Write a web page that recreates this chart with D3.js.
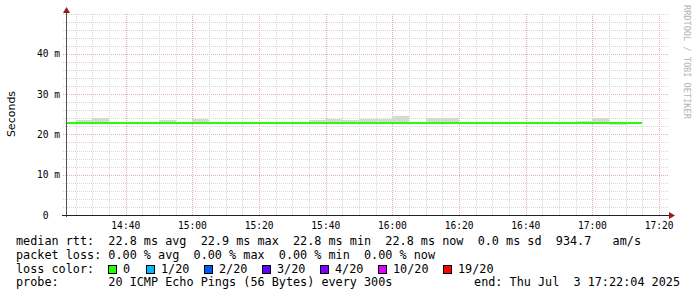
<!DOCTYPE html>
<html>
<head>
<meta charset="utf-8">
<script src="https://cdn.jsdelivr.net/npm/d3@7"></script>
<style>
  body { margin: 0; background: #fff; }
  text { font-family: "DejaVu Sans Mono", monospace; }
</style>
</head>
<body>
<div id="chart"></div>
<script>
var svgWidth = 697;
var svgHeight = 297;

// Data: 5 minute buckets (start time), median rtt and smoke band in ms
var bucketTimes = ["14:20","14:25","14:30","14:35","14:40","14:45","14:50","14:55",
  "15:00","15:05","15:10","15:15","15:20","15:25","15:30","15:35","15:40","15:45",
  "15:50","15:55","16:00","16:05","16:10","16:15","16:20","16:25","16:30","16:35",
  "16:40","16:45","16:50","16:55","17:00","17:05","17:10"];
var medianMs = [22.8,22.8,22.8,22.8,22.8,22.8,22.8,22.8,22.8,22.8,22.8,22.8,22.8,22.8,
  22.8,22.8,22.8,22.8,22.8,22.8,22.9,22.8,22.8,22.8,22.8,22.8,22.8,22.8,22.8,22.8,
  22.8,22.8,22.8,22.8,22.8];
var smokeMaxMs = [22.9,23.6,24.1,22.9,22.9,22.9,23.6,22.9,23.9,22.9,22.9,22.9,22.9,22.9,
  22.9,23.6,23.9,23.6,23.9,23.9,24.6,22.9,24.1,24.1,22.9,22.9,22.9,22.9,22.9,22.9,
  22.9,23.4,24.0,22.9,22.9];
var smokeMinMs = [22.6,22.6,22.6,22.6,22.6,22.6,22.6,22.6,22.6,22.6,22.6,22.6,22.6,22.6,
  22.6,22.6,22.6,22.6,22.6,22.6,22.6,22.6,22.6,22.6,22.6,22.6,22.6,22.6,22.6,22.6,
  22.6,22.6,22.6,22.4,22.6];

var startTime = "14:22:04";
var endTime = "17:22:04";
var xTickTimes = ["14:40","15:00","15:20","15:40","16:00","16:20","16:40","17:00","17:20"];
var yTickValues = [0, 10, 20, 30, 40];
var yTickLabels = [" 0  ", "10 m", "20 m", "30 m", "40 m"];

var legendRows = [
  "median rtt:  22.8 ms avg  22.9 ms max  22.8 ms min  22.8 ms now  0.0 ms sd  934.7   am/s",
  "packet loss: 0.00 % avg  0.00 % max  0.00 % min  0.00 % now",
  "loss color:",
  "probe:       20 ICMP Echo Pings (56 Bytes) every 300s"
];
var lossLabels = ["0", "1/20", "2/20", "3/20", "4/20", "10/20", "19/20"];
var lossColors = ["#26ff00", "#00b8ff", "#0059ff", "#5e00ff", "#7e00ff", "#dd00ff", "#ff0000"];
var endLabel = "end: Thu Jul  3 17:22:04 2025";

var parseTime = d3.timeParse("%H:%M");
var parseTimeSec = d3.timeParse("%H:%M:%S");

var margin = { top: 13.5, left: 66, bottom: 82, right: 31 };
var plotRight = svgWidth - margin.right;
var plotBottom = svgHeight - margin.bottom;

var svg = d3.select("#chart")
  .append("svg")
  .attr("width", svgWidth)
  .attr("height", svgHeight);

svg.append("rect").attr("width", svgWidth).attr("height", svgHeight).attr("fill", "#fff");

// Scales
// ==============================
var xScale = d3.scaleTime()
  .domain([parseTimeSec(startTime), parseTimeSec(endTime)])
  .range([margin.left, plotRight]);

var yScale = d3.scaleLinear()
  .domain([0, 50])
  .range([plotBottom, margin.top]);

var step = 5 * 60 * 1000;
var buckets = bucketTimes.map(function(t, i) {
  return { t: parseTime(t), median: medianMs[i], max: smokeMaxMs[i], min: smokeMinMs[i] };
});

// Grid
// ==============================
var gridG = svg.append("g").attr("shape-rendering", "crispEdges");

var minorY = d3.range(2, 51, 2);
gridG.selectAll(".hgrid")
  .data(minorY)
  .enter()
  .append("line")
  .attr("x1", margin.left - 3)
  .attr("x2", plotRight + 2)
  .attr("y1", d => Math.round(yScale(d)) + 0.5)
  .attr("y2", d => Math.round(yScale(d)) + 0.5)
  .attr("stroke", d => (d % 10 === 0 && d < 50) ? "#e8aeae" : "#d6d6d6")
  .attr("stroke-dasharray", "1,1");

var minorX = xScale.ticks(d3.timeMinute.every(5));
gridG.selectAll(".vgrid")
  .data(minorX)
  .enter()
  .append("line")
  .attr("x1", d => Math.round(xScale(d)) + 0.5)
  .attr("x2", d => Math.round(xScale(d)) + 0.5)
  .attr("y1", margin.top)
  .attr("y2", plotBottom)
  .attr("stroke", d => d.getMinutes() % 20 === 0 ? "#e8aeae" : "#d6d6d6")
  .attr("stroke-dasharray", "1,1");

// Smoke and median line
// ==============================
svg.append("clipPath").attr("id", "plotClip")
  .append("rect")
  .attr("x", margin.left + 1)
  .attr("y", margin.top)
  .attr("width", plotRight - margin.left)
  .attr("height", plotBottom - margin.top);

var dataG = svg.append("g").attr("clip-path", "url(#plotClip)");

dataG.selectAll(".smoke")
  .data(buckets)
  .enter()
  .append("rect")
  .attr("shape-rendering", "crispEdges")
  .attr("x", d => Math.round(xScale(d.t)))
  .attr("width", d => Math.round(xScale(new Date(+d.t + step))) - Math.round(xScale(d.t)))
  .attr("y", d => Math.round(yScale(d.max)))
  .attr("height", d => Math.round(yScale(d.min)) - Math.round(yScale(d.max)))
  .attr("fill", "#d8d8d8");

var linePts = buckets.concat([{ t: new Date(+buckets[buckets.length - 1].t + step), median: medianMs[medianMs.length - 1] }]);
var medianLine = d3.line()
  .x(d => Math.round(xScale(d.t)))
  .y(d => Math.round(yScale(d.median)))
  .curve(d3.curveStepAfter);

dataG.append("path")
  .datum(linePts)
  .attr("d", medianLine)
  .attr("fill", "none")
  .attr("stroke", lossColors[0])
  .attr("stroke-width", 2)
  .attr("shape-rendering", "crispEdges");

// Axes
// ==============================
svg.append("line")
  .attr("x1", margin.left + 0.5).attr("x2", margin.left + 0.5)
  .attr("y1", plotBottom + 2).attr("y2", 10)
  .attr("stroke", "#555")
  .attr("shape-rendering", "crispEdges");
svg.append("line")
  .attr("x1", margin.left - 4).attr("x2", plotRight + 4)
  .attr("y1", plotBottom + 0.5).attr("y2", plotBottom + 0.5)
  .attr("stroke", "#222")
  .attr("shape-rendering", "crispEdges");
svg.append("path")
  .attr("d", `M${margin.left - 3},13 L${margin.left + 0.5},7 L${margin.left + 4},13 Z`)
  .attr("fill", "#9a1a1a");
svg.append("path")
  .attr("d", `M${plotRight + 3},${plotBottom - 3} L${plotRight + 9},${plotBottom + 0.5} L${plotRight + 3},${plotBottom + 4} Z`)
  .attr("fill", "#9a1a1a");

svg.selectAll(".xlab")
  .data(xTickTimes)
  .enter()
  .append("text")
  .attr("x", d => xScale(parseTime(d)))
  .attr("y", 229)
  .attr("text-anchor", "middle")
  .attr("font-size", "9.6px")
  .attr("fill", "#000")
  .text(d => d);

svg.selectAll(".ylab")
  .data(yTickValues)
  .enter()
  .append("text")
  .attr("x", 60)
  .attr("y", d => yScale(d) + 3.5)
  .attr("text-anchor", "end")
  .attr("font-size", "9.6px")
  .attr("fill", "#000")
  .style("white-space", "pre")
  .text((d, i) => yTickLabels[i]);

svg.append("text")
  .attr("transform", "translate(15, 114) rotate(-90)")
  .attr("text-anchor", "middle")
  .style("font-family", "'DejaVu Sans', sans-serif")
  .attr("font-size", "11px")
  .attr("fill", "#000")
  .text("Seconds");

svg.append("text")
  .attr("transform", "translate(684, 5) rotate(90)")
  .attr("font-size", "8.6px")
  .attr("fill", "#b4b4b4")
  .style("white-space", "pre")
  .text("RRDTOOL / TOBI OETIKER");

// Legend
// ==============================
var legendG = svg.append("g").attr("font-size", "11.8px").attr("fill", "#000");

legendG.selectAll(".row")
  .data(legendRows)
  .enter()
  .append("text")
  .attr("x", 16)
  .attr("y", (d, i) => 245 + i * 13.8)
  .style("white-space", "pre")
  .text(d => d);

legendG.append("text")
  .attr("x", 680)
  .attr("y", 245 + 3 * 13.8)
  .attr("text-anchor", "end")
  .style("white-space", "pre")
  .text(endLabel);

var swatchX = [108, 146, 204, 262, 320, 378, 443];
var lossG = legendG.selectAll(".loss")
  .data(lossLabels)
  .enter()
  .append("g")
  .attr("transform", (d, i) => `translate(${swatchX[i]}, 265)`);

lossG.append("rect")
  .attr("x", 0.5).attr("y", 0.5)
  .attr("width", 8).attr("height", 8)
  .attr("fill", (d, i) => lossColors[i])
  .attr("stroke", "#000")
  .attr("shape-rendering", "crispEdges");

lossG.append("text")
  .attr("x", 15)
  .attr("y", 245 + 2 * 13.8 - 265)
  .text(d => d);
</script>
</body>
</html>
